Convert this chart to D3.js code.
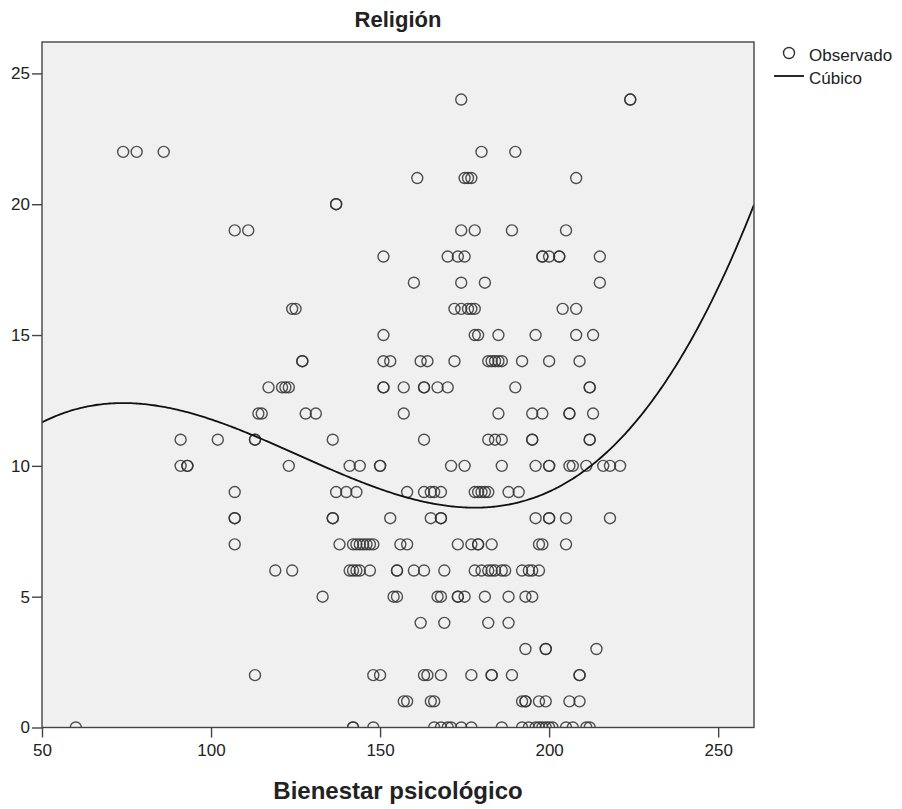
<!DOCTYPE html>
<html>
<head>
<meta charset="utf-8">
<script src="https://cdn.jsdelivr.net/npm/d3@7"></script>
<style>
  body { margin: 0; background: #fff; }
  text { font-family: "Liberation Sans", Arial, sans-serif; fill: #222; }
</style>
</head>
<body>
<svg id="chart" width="902" height="809"></svg>
<script>
// ---------------------------------------------
// data
// ---------------------------------------------
const xTicks = [50, 100, 150, 200, 250];
const yTicks = [0, 5, 10, 15, 20, 25];

// Religión value for each row of points
const religionLevels = [24, 22, 21, 20, 19, 18, 17, 16, 15, 14, 13, 12, 11, 10, 9, 8, 7, 6, 5, 4, 3, 2, 1, 0];

// Bienestar psicológico scores observed at each Religión level (same order)
const bienestarByLevel = [
  [174, 224, 224],
  [74, 78, 86, 180, 190],
  [161, 175, 176, 177, 208],
  [137, 137],
  [107, 111, 174, 178, 189, 205],
  [151, 170, 173, 175, 198, 198, 200, 203, 203, 215],
  [160, 174, 181, 215],
  [124, 125, 172, 174, 176, 177, 178, 204, 208],
  [151, 178, 179, 185, 196, 208, 213],
  [127, 127, 151, 153, 162, 164, 172, 182, 183, 184, 185, 186, 192, 200, 209],
  [117, 121, 122, 123, 151, 151, 157, 163, 163, 167, 170, 190, 212, 212],
  [114, 115, 128, 131, 157, 185, 195, 198, 206, 206, 213],
  [91, 102, 113, 113, 136, 163, 182, 184, 186, 195, 195, 212, 212],
  [91, 93, 93, 123, 141, 144, 150, 150, 171, 175, 186, 196, 200, 200, 206, 207, 211, 216, 218, 221],
  [107, 137, 140, 143, 158, 163, 165, 166, 168, 178, 179, 180, 181, 182, 188, 191],
  [107, 107, 136, 136, 153, 165, 168, 168, 196, 200, 200, 205, 218],
  [107, 138, 142, 143, 144, 145, 146, 147, 148, 156, 158, 173, 177, 179, 179, 183, 197, 198, 205],
  [119, 124, 141, 142, 143, 144, 147, 155, 155, 160, 163, 169, 178, 180, 182, 183, 184, 186, 187, 192, 194, 195, 197],
  [133, 154, 155, 167, 168, 173, 173, 175, 181, 188, 193, 195],
  [162, 169, 182, 188],
  [193, 199, 199, 214],
  [113, 148, 150, 163, 164, 168, 177, 183, 183, 189, 209, 209],
  [157, 158, 165, 166, 192, 193, 193, 197, 199, 206, 209],
  [60, 142, 142, 148, 166, 168, 170, 171, 174, 177, 186, 192, 194, 196, 197, 198, 199, 200, 201, 205, 207, 211, 212]
];

// cubic fit  y = c0 + c1*x + c2*x^2 + c3*x^3  (estimated from the drawn curve)
const cubicCoef = [3.443, 0.28104, -0.0026883, 0.000007112];

// ---------------------------------------------
// layout
// ---------------------------------------------
const svg = d3.select("#chart");
const plot = { left: 42, top: 42, right: 754, bottom: 727.5 };

const xScale = d3.scaleLinear().domain([50, 260.6]).range([plot.left, plot.right]);
const yScale = d3.scaleLinear().domain([0, 26.2]).range([plot.bottom, plot.top]);

const points = [];
religionLevels.forEach((lvl, i) => {
  bienestarByLevel[i].forEach((b) => points.push([b, lvl]));
});

// plot background
svg.append("rect")
  .attr("x", plot.left)
  .attr("y", plot.top)
  .attr("width", plot.right - plot.left)
  .attr("height", plot.bottom - plot.top)
  .attr("fill", "#f0f0f0");

svg.append("clipPath")
  .attr("id", "plot-clip")
  .append("rect")
  .attr("x", plot.left)
  .attr("y", plot.top)
  .attr("width", plot.right - plot.left)
  .attr("height", plot.bottom - plot.top);

// observed points
svg.append("g")
  .attr("clip-path", "url(#plot-clip)")
  .selectAll("circle")
  .data(points)
  .enter()
  .append("circle")
  .attr("cx", (d) => xScale(d[0]))
  .attr("cy", (d) => yScale(d[1]))
  .attr("r", 5.5)
  .attr("fill", "none")
  .attr("stroke", "#333")
  .attr("stroke-opacity", 0.85)
  .attr("stroke-width", 1.4);

// cubic curve
const cubic = (x) => cubicCoef[0] + cubicCoef[1] * x + cubicCoef[2] * x * x + cubicCoef[3] * x * x * x;
const curveX = d3.range(50, 260.6, 0.5).concat([260.6]);

svg.append("path")
  .attr("clip-path", "url(#plot-clip)")
  .datum(curveX)
  .attr("fill", "none")
  .attr("stroke", "#111")
  .attr("stroke-width", 1.8)
  .attr("d", d3.line().x((x) => xScale(x)).y((x) => yScale(cubic(x))));

// frame
svg.append("rect")
  .attr("x", plot.left)
  .attr("y", plot.top)
  .attr("width", plot.right - plot.left)
  .attr("height", plot.bottom - plot.top)
  .attr("fill", "none")
  .attr("stroke", "#444")
  .attr("stroke-width", 1.4);

// axes
const xAxis = svg.append("g")
  .attr("transform", "translate(0," + plot.bottom + ")")
  .call(d3.axisBottom(xScale).tickValues(xTicks).tickSize(10).tickSizeOuter(0).tickPadding(6));
const yAxis = svg.append("g")
  .attr("transform", "translate(" + plot.left + ",0)")
  .call(d3.axisLeft(yScale).tickValues(yTicks).tickSize(10).tickSizeOuter(0).tickPadding(2));

[xAxis, yAxis].forEach((ax) => {
  ax.select(".domain").remove();
  ax.selectAll(".tick line").attr("stroke", "#444").attr("stroke-width", 1.4);
  ax.selectAll(".tick text")
    .style("font-family", '"Liberation Sans", Arial, sans-serif')
    .style("font-size", "17px")
    .attr("fill", "#222");
});

// titles
svg.append("text")
  .attr("x", (plot.left + plot.right) / 2)
  .attr("y", 27)
  .attr("text-anchor", "middle")
  .style("font-size", "22px")
  .style("font-weight", "bold")
  .text("Religión");

svg.append("text")
  .attr("x", (plot.left + plot.right) / 2)
  .attr("y", 799)
  .attr("text-anchor", "middle")
  .style("font-size", "24px")
  .style("font-weight", "bold")
  .text("Bienestar psicológico");

// legend
const legend = svg.append("g");
legend.append("circle")
  .attr("cx", 789)
  .attr("cy", 53)
  .attr("r", 5.5)
  .attr("fill", "none")
  .attr("stroke", "#333")
  .attr("stroke-width", 1.4);
legend.append("text")
  .attr("x", 809)
  .attr("y", 61)
  .style("font-size", "17px")
  .text("Observado");
legend.append("line")
  .attr("x1", 774)
  .attr("x2", 804)
  .attr("y1", 76)
  .attr("y2", 76)
  .attr("stroke", "#111")
  .attr("stroke-width", 1.8);
legend.append("text")
  .attr("x", 809)
  .attr("y", 84)
  .style("font-size", "17px")
  .text("Cúbico");
</script>
</body>
</html>
